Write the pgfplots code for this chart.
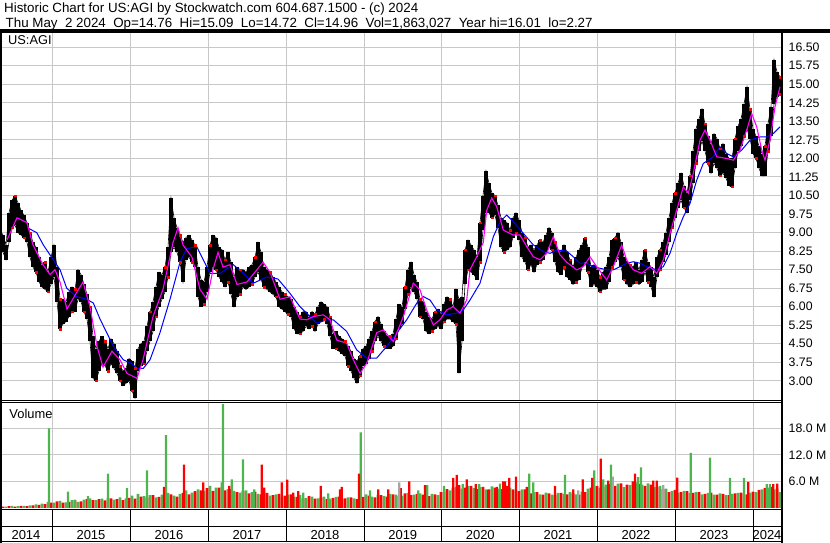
\documentclass[border=0pt]{standalone}
\usepackage{pgfplots}
\pgfplotsset{compat=1.18}
\usepackage{pgfplotstable}
\usepackage{fontspec}
\setmainfont{Liberation Sans}
\definecolor{vgreen}{RGB}{77,181,77}
\definecolor{vred}{RGB}{255,0,0}
\definecolor{vgray}{RGB}{165,165,165}
\definecolor{gridc}{RGB}{200,200,200}
\definecolor{maline}{RGB}{255,0,255}
\definecolor{mbline}{RGB}{0,0,255}

% x = time index (one unit = one pixel column of the original chart)
\pgfplotstableread{
x hi lo
0 9.1 8.4
3 8.9 8.2
6 8.5 7.9
9 9.8 8.6
12 10.3 9.2
15 10.5 9.3
18 10.2 9.0
21 9.9 8.9
24 9.7 8.8
27 9.4 8.6
30 9.0 8.0
33 8.6 7.6
36 8.4 7.4
39 8.0 7.0
42 7.7 6.8
45 7.8 6.7
48 7.4 6.6
51 8.0 6.9
54 8.5 7.2
57 7.6 6.2
60 6.3 5.1
63 6.3 5.3
66 6.2 5.4
69 6.6 5.6
72 6.8 5.8
75 6.7 5.8
78 7.5 6.3
81 7.3 6.2
84 6.9 5.8
87 6.5 5.5
90 6.0 4.6
93 4.8 3.1
96 4.3 3.0
99 4.6 3.4
102 4.8 3.7
105 4.6 3.6
108 4.3 3.4
111 4.7 3.7
114 4.5 3.5
117 4.2 3.3
120 3.6 3.0
123 3.4 2.8
126 3.5 2.9
129 3.9 3.0
132 3.8 2.6
135 3.5 2.3
138 4.3 3.4
141 4.5 3.6
144 4.6 3.7
147 5.2 4.2
150 5.8 4.6
153 6.2 5.0
156 6.8 5.6
159 7.4 6.0
162 7.3 6.3
165 7.6 6.6
168 8.4 7.2
171 10.4 8.2
174 9.6 8.4
177 9.2 8.2
180 8.9 7.8
183 8.6 7.0
186 8.8 7.9
189 8.9 8.0
192 8.7 7.8
195 8.5 7.6
198 7.6 6.4
201 7.1 6.0
204 7.0 6.1
207 7.6 6.6
210 8.5 7.4
213 8.9 7.6
216 8.8 7.5
219 8.4 7.2
222 8.3 7.0
225 7.9 6.8
228 8.2 7.0
231 7.8 6.5
234 7.2 6.0
237 7.6 6.4
240 7.5 6.5
243 7.5 6.8
246 7.4 6.7
249 7.6 6.8
252 7.7 6.9
255 8.0 7.2
258 8.6 7.4
261 8.2 7.1
264 7.6 6.8
267 7.5 6.7
270 7.4 6.6
273 7.2 6.5
276 7.0 6.4
279 6.8 6.0
282 6.6 5.9
285 6.5 5.8
288 6.4 5.7
291 6.3 5.6
294 6.0 5.1
297 5.8 4.9
300 5.6 4.9
303 5.8 5.0
306 5.8 5.2
309 5.6 5.1
312 5.8 5.2
315 5.7 5.0
318 6.0 5.3
321 6.2 5.4
324 6.1 5.5
327 6.0 5.3
330 5.6 4.8
333 4.9 4.3
336 5.0 4.3
339 4.8 4.2
342 4.7 4.1
345 4.6 4.0
348 4.4 3.6
351 4.2 3.4
354 3.9 3.1
357 3.8 2.9
360 4.0 3.2
363 4.3 3.6
366 4.4 3.7
369 4.7 3.9
372 5.0 4.2
375 5.4 4.6
378 5.6 4.8
381 5.3 4.6
384 5.0 4.4
387 4.8 4.3
390 4.8 4.3
393 4.9 4.4
396 5.5 4.7
399 6.1 5.1
402 6.0 5.3
405 6.8 5.9
408 7.5 6.5
411 7.8 6.8
414 7.3 6.6
417 7.0 6.3
420 6.3 5.6
423 6.2 5.5
426 5.8 5.0
429 5.6 4.9
432 5.5 5.0
435 5.8 5.1
438 5.9 5.2
441 5.7 5.1
444 6.1 5.4
447 6.4 5.5
450 6.3 5.5
453 6.0 5.4
456 6.7 5.3
459 6.3 3.3
462 6.4 4.6
465 8.3 6.9
468 8.7 7.5
471 8.5 7.4
474 8.3 7.3
477 8.0 7.1
480 9.4 7.8
483 10.5 9.1
486 11.5 9.8
489 11.0 9.8
492 10.6 9.6
495 10.5 9.7
498 10.1 9.2
501 9.6 8.4
504 9.5 8.2
507 9.4 8.3
510 9.1 8.4
513 9.6 8.8
516 9.8 9.0
519 9.5 8.7
522 9.0 8.0
525 8.8 7.8
528 8.4 7.5
531 8.5 7.7
534 8.3 7.4
537 8.5 7.7
540 8.7 7.8
543 8.6 7.9
546 8.9 8.2
549 9.2 8.4
552 9.0 8.3
555 8.6 7.8
558 8.3 7.4
561 8.2 7.3
564 8.5 7.6
567 8.2 7.2
570 7.9 7.1
573 7.6 6.9
576 8.0 7.0
579 8.3 7.1
582 8.5 7.6
585 8.8 7.8
588 8.4 7.4
591 7.6 6.8
594 7.7 6.9
597 7.5 6.8
600 7.2 6.6
603 7.4 6.7
606 7.6 6.7
609 8.0 7.0
612 8.7 7.6
615 8.8 7.8
618 9.0 8.0
621 8.6 7.6
624 8.0 7.1
627 7.8 6.9
630 7.7 6.8
633 7.6 6.9
636 7.8 7.0
639 7.5 6.9
642 7.9 7.0
645 8.3 7.4
648 7.8 7.0
651 7.6 6.8
654 7.2 6.4
657 8.0 7.2
660 8.3 7.5
663 8.6 7.8
666 9.0 8.1
669 9.6 8.6
672 10.2 9.2
675 10.6 9.6
678 11.0 10.0
681 11.4 10.3
684 10.9 10.0
687 10.6 9.8
690 11.3 10.3
693 12.3 11.0
696 13.2 11.8
699 13.6 12.3
702 14.0 12.7
705 13.4 12.3
708 12.9 11.8
711 12.6 11.4
714 13.0 11.8
717 12.8 11.6
720 12.4 11.3
723 12.6 11.4
726 12.2 11.2
729 12.0 10.9
732 12.0 10.85
735 12.8 11.6
738 13.3 12.3
741 13.6 12.5
744 14.2 12.9
747 14.9 13.2
750 14.0 12.8
753 13.2 12.2
756 12.9 12.0
759 12.5 11.6
762 12.2 11.3
765 12.5 11.3
768 13.4 12.3
771 14.1 12.9
774 16.0 14.2
777 15.5 14.5
780 15.3 14.6
}\price

\pgfplotstableread{
x p
7 8.7
17 9.6
27 9.4
33 8.5
43 7.7
50 7.3
55 7.5
60 7.0
67 5.9
77 6.6
83 7.0
90 6.0
97 4.4
103 3.55
112 4.2
120 3.85
127 3.3
137 3.1
143 3.85
153 5.6
163 6.7
173 8.6
178 9.2
183 8.5
192 8.0
200 6.7
207 6.3
213 7.5
218 8.2
223 7.6
230 7.7
237 6.9
247 7.0
255 7.4
263 7.8
270 7.4
280 6.3
290 6.4
300 5.5
306.7 5.47
313.3 5.6
323.3 5.67
330 5.47
336.7 4.65
346.7 4.52
353.3 3.85
360 3.3
366.7 3.71
376.7 4.95
383.3 5.06
393.3 4.59
403.3 5.6
413.3 6.95
420 6.68
426.7 5.87
433.3 5.26
440 5.47
446.7 5.87
453.3 6.0
460 5.74
466.7 6.27
470 7.5
476.7 8.02
483.3 8.6
486.7 9.9
491.7 10.4
496.7 10.05
503.3 9.1
513.3 8.9
520 8.9
526.7 8.43
533.3 8.02
540 7.9
546.7 8.16
553.3 8.83
560 8.1
566.7 7.8
576.7 7.49
583.3 7.62
590 8.02
596.7 7.62
606.7 7.08
613.3 7.62
621.7 8.5
626.7 7.89
633.3 7.49
641.7 7.35
650 7.62
656.7 7.35
663.3 7.89
670 8.97
676.7 9.91
683.3 10.85
688.3 10.59
693.3 11.4
700 12.74
705 13.15
710 12.74
716.7 12.07
726.7 12.0
733.3 11.93
740 12.34
746.7 13.15
751.7 13.82
756.7 13.28
761.7 12.34
765 11.93
770 12.74
775 14.09
780 14.9
}\mafast

\pgfplotstableread{
x p
27 9.2
36.7 9.0
43.3 8.5
53.3 7.9
60 7.5
66.7 6.75
76.7 6.4
86.7 6.3
93.3 6.15
100 5.5
106.7 4.95
113.3 4.4
123.3 3.85
131.7 3.7
136.7 3.5
143.3 3.5
150 3.85
160 4.95
170 6.3
180 7.8
186.7 8.35
196.7 8.43
203.3 7.9
210 7.35
220 7.35
233.3 7.7
243.3 7.35
253.3 6.95
266.7 7.2
278 7.12
290 6.54
300 6.0
310 5.6
316.7 5.33
326.7 5.47
333.3 5.47
346.7 5.0
356.7 4.25
366.7 3.92
376.7 3.92
386.7 4.39
396.7 4.93
406.7 5.47
416.7 6.14
423.3 6.41
430 6.27
436.7 5.87
446.7 5.67
456.7 5.74
463.3 5.87
470 6.27
480 6.95
486.7 7.89
493.3 8.83
500 9.44
506.7 9.71
513.3 9.44
523.3 8.97
533.3 8.5
543.3 8.23
550 8.16
556.7 8.29
566.7 8.25
573.3 8.02
580 7.76
586.7 7.76
593.3 7.62
606.7 7.49
613.3 7.49
620 7.62
626.7 7.76
633.3 7.82
640 7.76
646.7 7.62
656.7 7.49
663.3 7.62
670 8.16
676.7 8.97
683.3 9.64
690 10.18
696.7 11.12
703.3 11.8
713.3 12.07
720 12.47
726.7 12.2
733.3 12.07
741.7 12.34
750 12.74
760 12.87
766.7 12.87
773.3 13.01
780 13.28
}\maslow

\pgfplotstableread{
x v
0 0.4
6 0.3
12 0.5
18 0.4
24 0.5
30 0.6
36 0.8
42 1.0
48 1.4
54 1.2
60 1.6
66 1.3
72 1.8
78 1.4
84 1.9
90 2.2
96 1.8
102 2.1
108 2.3
114 1.9
120 2.4
126 2.2
132 2.8
138 3.2
144 2.7
150 2.9
156 2.4
162 3.0
168 3.4
174 2.8
180 3.2
186 4.0
192 3.5
198 4.2
204 3.9
210 5.0
216 4.6
222 4.8
228 4.3
234 3.9
240 3.5
246 4.0
252 3.6
258 3.2
264 3.5
270 2.8
276 3.1
282 2.6
288 3.0
294 2.6
300 2.9
306 2.3
312 2.6
318 2.2
324 2.6
330 2.1
336 2.5
342 2.0
348 2.4
354 2.2
360 2.8
366 3.1
372 2.6
378 3.0
384 2.7
390 3.2
396 3.0
402 2.8
408 3.4
414 3.0
420 3.3
426 2.8
432 3.2
438 2.9
444 3.6
450 4.0
456 4.8
462 4.4
468 5.0
474 4.5
480 4.7
486 4.2
492 4.9
498 4.4
504 4.1
510 4.6
516 4.0
522 4.2
528 3.7
534 3.6
540 3.1
546 3.5
552 3.0
558 3.4
564 3.2
570 3.6
576 3.1
582 3.7
588 4.4
594 4.9
600 4.6
606 5.3
612 4.8
618 5.5
624 4.7
630 5.2
636 5.8
642 5.3
648 5.6
654 4.8
660 5.0
666 4.4
672 3.8
678 3.5
684 3.9
690 3.4
696 3.6
702 3.1
708 3.4
714 3.0
720 3.3
726 2.9
732 3.2
738 3.4
744 3.1
750 3.5
756 3.6
762 4.2
768 4.6
774 4.2
780 3.6
}\volg

\pgfplotstableread{
x v
3 0.3
9 0.4
15 0.3
21 0.5
27 0.4
33 0.6
39 0.7
45 0.9
51 1.2
57 1.5
63 1.2
69 1.4
75 1.7
81 1.5
87 2.0
93 1.8
99 2.0
105 1.7
111 2.2
117 2.0
123 1.8
129 2.3
135 2.1
141 2.6
147 2.4
153 2.9
159 2.5
165 2.7
171 3.1
177 2.6
183 3.4
189 3.1
195 3.7
201 4.0
207 4.5
213 3.9
219 4.6
225 4.0
231 4.3
237 3.6
243 3.8
249 3.3
255 3.7
261 3.1
267 3.4
273 2.9
279 3.2
285 2.8
291 3.1
297 2.5
303 2.2
309 2.7
315 2.1
321 2.4
327 2.0
333 2.3
339 2.6
345 2.2
351 2.4
357 2.0
363 2.5
369 2.8
375 2.4
381 2.9
387 2.6
393 3.1
399 2.7
405 3.3
411 2.9
417 3.2
423 3.0
429 2.7
435 3.1
441 3.6
447 4.3
453 4.6
459 5.2
465 4.6
471 5.0
477 4.3
483 4.8
489 4.2
495 4.6
501 4.3
507 5.0
513 4.2
519 3.8
525 4.2
531 3.3
537 3.6
543 3.0
549 3.3
555 2.9
561 3.4
567 3.1
573 3.3
579 3.0
585 3.6
591 4.6
597 5.0
603 4.7
609 5.4
615 5.0
621 5.6
627 5.3
633 6.0
639 5.4
645 5.0
651 5.3
657 4.7
663 4.3
669 3.6
675 4.1
681 3.6
687 3.8
693 3.4
699 3.6
705 3.2
711 3.5
717 3.0
723 3.2
729 2.9
735 3.3
741 3.5
747 3.1
753 3.7
759 4.1
765 4.5
771 4.8
777 4.4
}\volr

\pgfplotstableread{
x v
49 18.0
68 3.7
75 1.9
88 2.7
108 7.8
127 4.5
147 8.5
166 16.5
221.7 5.8
223 23.5
231.7 6.5
243 11.0
254.3 4.2
303.3 3.5
328.3 3.3
360.7 17.1
370 4.0
418.3 4.0
427.3 5.2
444 5.0
462.7 5.4
479.3 5.4
500 5.5
529.3 7.8
533.3 5.8
565 7.5
594.3 8.5
603.3 6.5
611 9.8
638 7.0
641 9.2
690.7 12.5
710 11.4
730 6.8
744 6.8
766.7 5.4
770 5.4
}\volgs

\pgfplotstableread{
x v
164 4.8
184 9.8
195 3.8
203.3 5.8
229.3 5.0
261.7 9.8
264.3 4.6
281.7 5.8
287.3 6.4
293.3 3.5
298.3 3.8
320.7 5.0
340 4.2
341.7 4.8
359 7.8
378.3 4.2
388.3 4.2
400.7 4.5
409.3 6.0
425 5.2
453.3 6.8
456.7 7.5
466.7 6.5
475.7 5.4
488.3 4.1
496.7 4.8
503.3 6.0
505 6.0
509.3 6.8
516 7.1
526.7 4.8
555 5.0
573.3 4.2
582.7 6.5
592.3 6.8
600.7 11.2
608.3 6.2
635 7.8
653.3 6.2
656.7 6.2
677.3 6.9
748.3 5.9
773.3 5.4
777.3 5.5
}\volrs

\pgfplotstableread{
x v
399.3 5.8
578.3 4.0
612.7 7.1
663.3 5.2
}\volgr

\pgfplotsset{
  panel/.style={
    scale only axis, width=781bp, xmin=0, xmax=781,
    axis line style={draw=none}, major tick length=0pt,
    xtick={52,130,208,286,364,441.5,519,597,675,753}, xticklabels={},
    grid=major, grid style={gridc, line width=1bp},
    yticklabel pos=right,
    yticklabel style={anchor=west, inner sep=0pt, xshift=7.5bp, font=\fontsize{12.3bp}{14bp}\selectfont},
  },
}

\begin{document}
\begin{tikzpicture}
\useasboundingbox (0,0) rectangle (830bp,543bp);

% price panel
\begin{axis}[panel, at={(0bp,143bp)}, anchor=south west, height=368bp,
  ymin=2.223, ymax=17.119,
  ytick={3,3.75,4.5,5.25,6,6.75,7.5,8.25,9,9.75,10.5,11.25,12,12.75,13.5,14.25,15,15.75,16.5},
  yticklabel={\pgfmathprintnumber[fixed,fixed zerofill,precision=2,assume math mode=true]{\tick}}]
  \addplot[draw=none, mark=none, forget plot,
    error bars/.cd, y dir=plus, y explicit, error mark=none,
    error bar style={black, line width=3.1bp}]
    table[x=x, y=lo, y error expr=\thisrow{hi}-\thisrow{lo}]{\price};
  \addplot[black, line width=0.6bp] table[x=x,y=hi]{\price};
  \addplot[black, line width=0.6bp] table[x=x,y=lo]{\price};
  \addplot[only marks, mark=square*, mark size=0.8bp, red, each nth point=4] table[x=x,y=lo]{\price};
  \addplot[only marks, mark=square*, mark size=0.8bp, red, each nth point=5] table[x=x,y=hi]{\price};
  \addplot[mbline, line width=1bp] table[x=x,y=p]{\maslow};
  \addplot[maline, line width=1.1bp] table[x=x,y=p]{\mafast};
\end{axis}

% volume panel
\begin{axis}[panel, at={(0bp,35bp)}, anchor=south west, height=105bp,
  ymin=0, ymax=23.77,
  ytick={6,12,18}, yticklabels={6.0 M,12.0 M,18.0 M}]
  \addplot[ybar, bar width=2.9bp, bar shift=0pt, fill=vgreen, draw=none] table[x=x,y=v]{\volg};
  \addplot[ybar, bar width=2.9bp, bar shift=0pt, fill=vred, draw=none] table[x=x,y=v]{\volr};
  \addplot[ybar, bar width=2.2bp, bar shift=0pt, fill=vgreen, draw=none] table[x=x,y=v]{\volgs};
  \addplot[ybar, bar width=2.2bp, bar shift=0pt, fill=vred, draw=none] table[x=x,y=v]{\volrs};
  \addplot[ybar, bar width=2.2bp, bar shift=0pt, fill=vgray, draw=none] table[x=x,y=v]{\volgr};
\end{axis}

% frame lines
\draw[line width=3.3bp] (0,512bp) -- (830bp,512bp);
\draw[line width=2bp] (0.9bp,512bp) -- (0.9bp,0);
\draw[line width=2.3bp] (782.3bp,512bp) -- (782.3bp,0);
\draw[line width=1bp] (0,142.3bp) -- (782bp,142.3bp);
\draw[line width=1bp] (0,140.3bp) -- (782bp,140.3bp);
\draw[line width=1.7bp] (0,33.5bp) -- (782bp,33.5bp);
\draw[line width=1.5bp] (0,16.3bp) -- (782bp,16.3bp);
\draw[line width=1.5bp] (0,1.3bp) -- (782bp,1.3bp);
\foreach \xx in {52,130,208,286,364,441.5,519,597,675,753}
  \draw[line width=1bp] (\xx bp,33.5bp) -- (\xx bp,1.3bp);

% year labels
\foreach \xx/\yy in {26/2014,91/2015,169/2016,247/2017,325/2018,402.75/2019,480.25/2020,558/2021,636/2022,714/2023,767/2024}
  \node[anchor=base, inner sep=0pt, font=\fontsize{13bp}{15bp}\selectfont] at (\xx bp,3.9bp) {\yy};

% titles
\node[anchor=base west, inner sep=0pt, font=\fontsize{13.35bp}{16bp}\selectfont] at (4bp,530.3bp)
  {Historic Chart for US:AGI by Stockwatch.com 604.687.1500 - (c) 2024};
\node[anchor=base west, inner sep=0pt, font=\fontsize{13.35bp}{16bp}\selectfont] at (5.5bp,515.6bp)
  {Thu May\ \ 2 2024\ \ Op=14.76\ \ Hi=15.09\ \ Lo=14.72\ \ Cl=14.96\ \ Vol=1,863,027\ \ Year hi=16.01\ \ lo=2.27};
\node[anchor=base west, inner sep=0pt, font=\fontsize{12.8bp}{15bp}\selectfont] at (8bp,498bp) {US:AGI};
\node[anchor=base west, inner sep=0pt, font=\fontsize{12.9bp}{15bp}\selectfont] at (9.3bp,124.7bp) {Volume};
\end{tikzpicture}
\end{document}
